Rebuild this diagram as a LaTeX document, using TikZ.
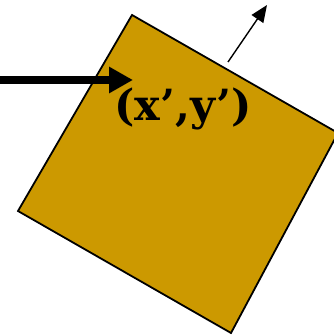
\documentclass[tikz,border=0pt]{standalone}
\usepackage{fontspec}
\newfontfamily\ptfont{DejaVu Serif}
\usepackage{tikz}
\usetikzlibrary{arrows.meta}

\definecolor{plate}{RGB}{204,153,0}

\begin{document}
\begin{tikzpicture}[
  x=1pt, y=-1pt,
  plate/.style={fill=plate, draw=black, line width=1.8pt, line join=miter},
  ptlabel/.style={font=\ptfont\bfseries\fontsize{43}{43}\selectfont, inner sep=0pt},
  bigarrow/.style={-{Triangle[length=24pt, width=25pt]}, line width=7.5pt},
  thinarrow/.style={-{Triangle[length=17pt, width=14pt]}, line width=1.4pt},
]
\useasboundingbox (0,0) rectangle (333,336);

% rotated square
\coordinate (ctop) at (132,15);
\coordinate (cright) at (338,133);
\coordinate (cbot) at (231,333);
\coordinate (cleft) at (18,211);
\draw[plate] (ctop) -- (cright) -- (cbot) -- (cleft) -- cycle;

\node[ptlabel] (pt) at (183,109) {(x’,y’)};

\coordinate (src) at (0,80);
\coordinate (tip) at (133,80);
\draw[bigarrow] (src) -- (tip);

\coordinate (nbase) at (228,62);
\coordinate (nend) at (267,5);
\draw[thinarrow] (nbase) -- (nend);

\end{tikzpicture}
\end{document}
